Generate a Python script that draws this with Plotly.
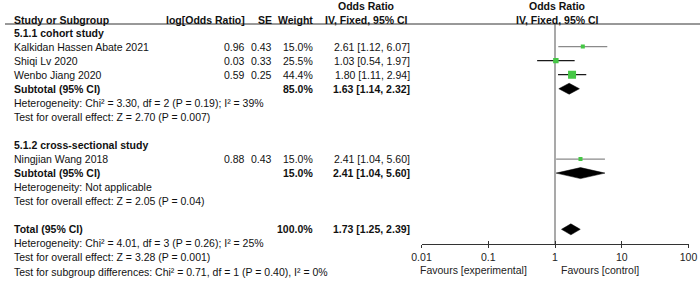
import plotly.graph_objects as go

# ---------------- data ----------------
study_names = ["Kalkidan Hassen Abate 2021", "Shiqi Lv 2020", "Wenbo Jiang 2020", "Ningjian Wang 2018"]
study_group = [0, 0, 0, 1]
log_or = ["0.96", "0.03", "0.59", "0.88"]
se = ["0.43", "0.33", "0.25", "0.43"]
weights = [15.0, 25.5, 44.4, 15.0]
or_est = [2.61, 1.03, 1.80, 2.41]
ci_lo = [1.12, 0.54, 1.11, 1.04]
ci_hi = [6.07, 1.97, 2.94, 5.60]

group_titles = ["5.1.1 cohort study", "5.1.2 cross-sectional study"]
sub_weights = [85.0, 15.0]
sub_est = [1.63, 2.41]
sub_lo = [1.14, 1.04]
sub_hi = [2.32, 5.60]
sub_het = ["Heterogeneity: Chi² = 3.30, df = 2 (P = 0.19); I² = 39%",
           "Heterogeneity: Not applicable"]
sub_test = ["Test for overall effect: Z = 2.70 (P = 0.007)",
            "Test for overall effect: Z = 2.05 (P = 0.04)"]

total_weight = 100.0
total_est = 1.73
total_lo = 1.25
total_hi = 2.39
total_notes = ["Heterogeneity: Chi² = 4.01, df = 3 (P = 0.26); I² = 25%",
               "Test for overall effect: Z = 3.28 (P = 0.001)",
               "Test for subgroup differences: Chi² = 0.71, df = 1 (P = 0.40), I² = 0%"]

tick_vals = [0.01, 0.1, 1, 10, 100]
tick_text = ["0.01", "0.1", "1", "10", "100"]
favours_left = "Favours [experimental]"
favours_right = "Favours [control]"

# ---------------- layout helpers ----------------
W, H = 700, 283
FONT = "Arial, 'Liberation Sans', sans-serif"
FS = 10.5
TXT = "#111"
GREEN = "#45c745"
ci_colors = ["#8a8a8a", "#1a1a1a", "#1a1a1a", "#8a8a8a"]

ROW0, ROWH = 32.5, 14.06
def ry(i):
    return ROW0 + ROWH * i

X_NAME, X_LOG, X_SE, X_W, X_CI = 12, 247, 274, 315, 412
X_CI_HDR, X_PLOT_HDR = 366, 557
PLOT_L, PLOT_R = 421.5, 688.5
AXIS_Y = 244
HDR_LINE_Y = 24

fig = go.Figure()
ann = []

def text(x, y, s, anchor="left", bold=False, size=FS, color=TXT):
    ann.append(dict(x=x, y=y, xref="x", yref="y", text=f"<b>{s}</b>" if bold else s,
                    showarrow=False, xanchor=anchor, yanchor="middle",
                    font=dict(family=FONT, size=size, color=color)))

# headers
text(X_CI_HDR, 6, "Odds Ratio", "center", True)
text(X_PLOT_HDR, 6, "Odds Ratio", "center", True)
text(X_NAME, 20, "Study or Subgroup", "left", True)
text(X_LOG, 20, "log[Odds Ratio]", "right", True)
text(X_SE, 20, "SE", "right", True)
text(X_W, 20, "Weight", "right", True)
text(X_CI_HDR, 20, "IV, Fixed, 95% CI", "center", True)
text(X_PLOT_HDR, 20, "IV, Fixed, 95% CI", "center", True)

# rows
row = 0
study_rows = []
sub_rows = []
for g, title in enumerate(group_titles):
    text(X_NAME, ry(row), title, bold=True)
    row += 1
    for k, name in enumerate(study_names):
        if study_group[k] != g:
            continue
        y = ry(row)
        study_rows.append((k, y))
        text(X_NAME, y, name)
        text(X_LOG, y, log_or[k], "right")
        text(X_SE, y, se[k], "right")
        text(X_W, y, f"{weights[k]:.1f}%", "right")
        text(X_CI, y, f"{or_est[k]:.2f} [{ci_lo[k]:.2f}, {ci_hi[k]:.2f}]", "right")
        row += 1
    y = ry(row)
    sub_rows.append((g, y))
    text(X_NAME, y, "Subtotal (95% CI)", bold=True)
    text(X_W, y, f"{sub_weights[g]:.1f}%", "right", True)
    text(X_CI, y, f"{sub_est[g]:.2f} [{sub_lo[g]:.2f}, {sub_hi[g]:.2f}]", "right", True)
    row += 1
    text(X_NAME, ry(row), sub_het[g]); row += 1
    text(X_NAME, ry(row), sub_test[g]); row += 1
    row += 1  # blank

total_y = ry(row)
text(X_NAME, total_y, "Total (95% CI)", bold=True)
text(X_W, total_y, f"{total_weight:.1f}%", "right", True)
text(X_CI, total_y, f"{total_est:.2f} [{total_lo:.2f}, {total_hi:.2f}]", "right", True)
row += 1
for note in total_notes:
    text(X_NAME, ry(row), note)
    row += 1

# favours labels
text(529, 270, favours_left, "right", color="#222")
text(559, 270, favours_right, "left", color="#222")

# CI lines and markers
for k, y in study_rows:
    fig.add_trace(go.Scatter(x=[ci_lo[k], ci_hi[k]], y=[y, y], xaxis="x2", yaxis="y",
                             mode="lines", line=dict(color=ci_colors[k], width=1.3),
                             hoverinfo="skip", showlegend=False))
for k, y in study_rows:
    fig.add_trace(go.Scatter(x=[or_est[k]], y=[y], xaxis="x2", yaxis="y", mode="markers",
                             marker=dict(symbol="square", size=2 + 0.135 * weights[k],
                                         color=GREEN, line=dict(width=0)),
                             hoverinfo="skip", showlegend=False))

def diamond(est, lo, hi, y, h=5.5):
    fig.add_trace(go.Scatter(x=[lo, est, hi, est, lo], y=[y, y - h, y, y + h, y],
                             xaxis="x2", yaxis="y", mode="lines", fill="toself",
                             fillcolor="black", line=dict(color="black", width=0.5),
                             hoverinfo="skip", showlegend=False))

for g, y in sub_rows:
    diamond(sub_est[g], sub_lo[g], sub_hi[g], y)
diamond(total_est, total_lo, total_hi, total_y)

# lines
shapes = [
    dict(type="line", xref="x", yref="y", x0=5, x1=700, y0=HDR_LINE_Y, y1=HDR_LINE_Y,
         line=dict(color="#333", width=1)),
    dict(type="line", xref="x2", yref="y", x0=1, x1=1, y0=HDR_LINE_Y, y1=AXIS_Y,
         line=dict(color="#8c8c8c", width=1.5), layer="below"),
]

axis_common = dict(type="log", range=[-2, 2], domain=[PLOT_L / W, PLOT_R / W],
                   anchor="free", position=1 - AXIS_Y / H, showline=True,
                   linecolor="#333", linewidth=1, tickvals=tick_vals, ticktext=tick_text,
                   tickcolor="#333", tickwidth=1, showgrid=False, zeroline=False,
                   fixedrange=True, automargin=False)

fig.update_layout(
    width=W, height=H, margin=dict(l=0, r=0, t=0, b=0, pad=0, autoexpand=False),
    paper_bgcolor="white", plot_bgcolor="white",
    xaxis=dict(range=[0, W], domain=[0, 1], visible=False, fixedrange=True, automargin=False),
    yaxis=dict(range=[H, 0], domain=[0, 1], visible=False, fixedrange=True, automargin=False),
    xaxis2=dict(**axis_common, ticks="outside", ticklen=3,
                tickfont=dict(family=FONT, size=FS, color="#222")),
    xaxis3=dict(**axis_common, overlaying="x2", ticks="inside", ticklen=3,
                showticklabels=False),
    annotations=ann, shapes=shapes, showlegend=False,
)
# dummy trace to activate xaxis3
fig.add_trace(go.Scatter(x=[1], y=[AXIS_Y], xaxis="x3", yaxis="y", mode="markers",
                         marker=dict(opacity=0), hoverinfo="skip", showlegend=False))

fig.write_html("out.html", config={"displayModeBar": False},
               post_script="document.body.style.margin='0';document.body.style.overflow='hidden';")
